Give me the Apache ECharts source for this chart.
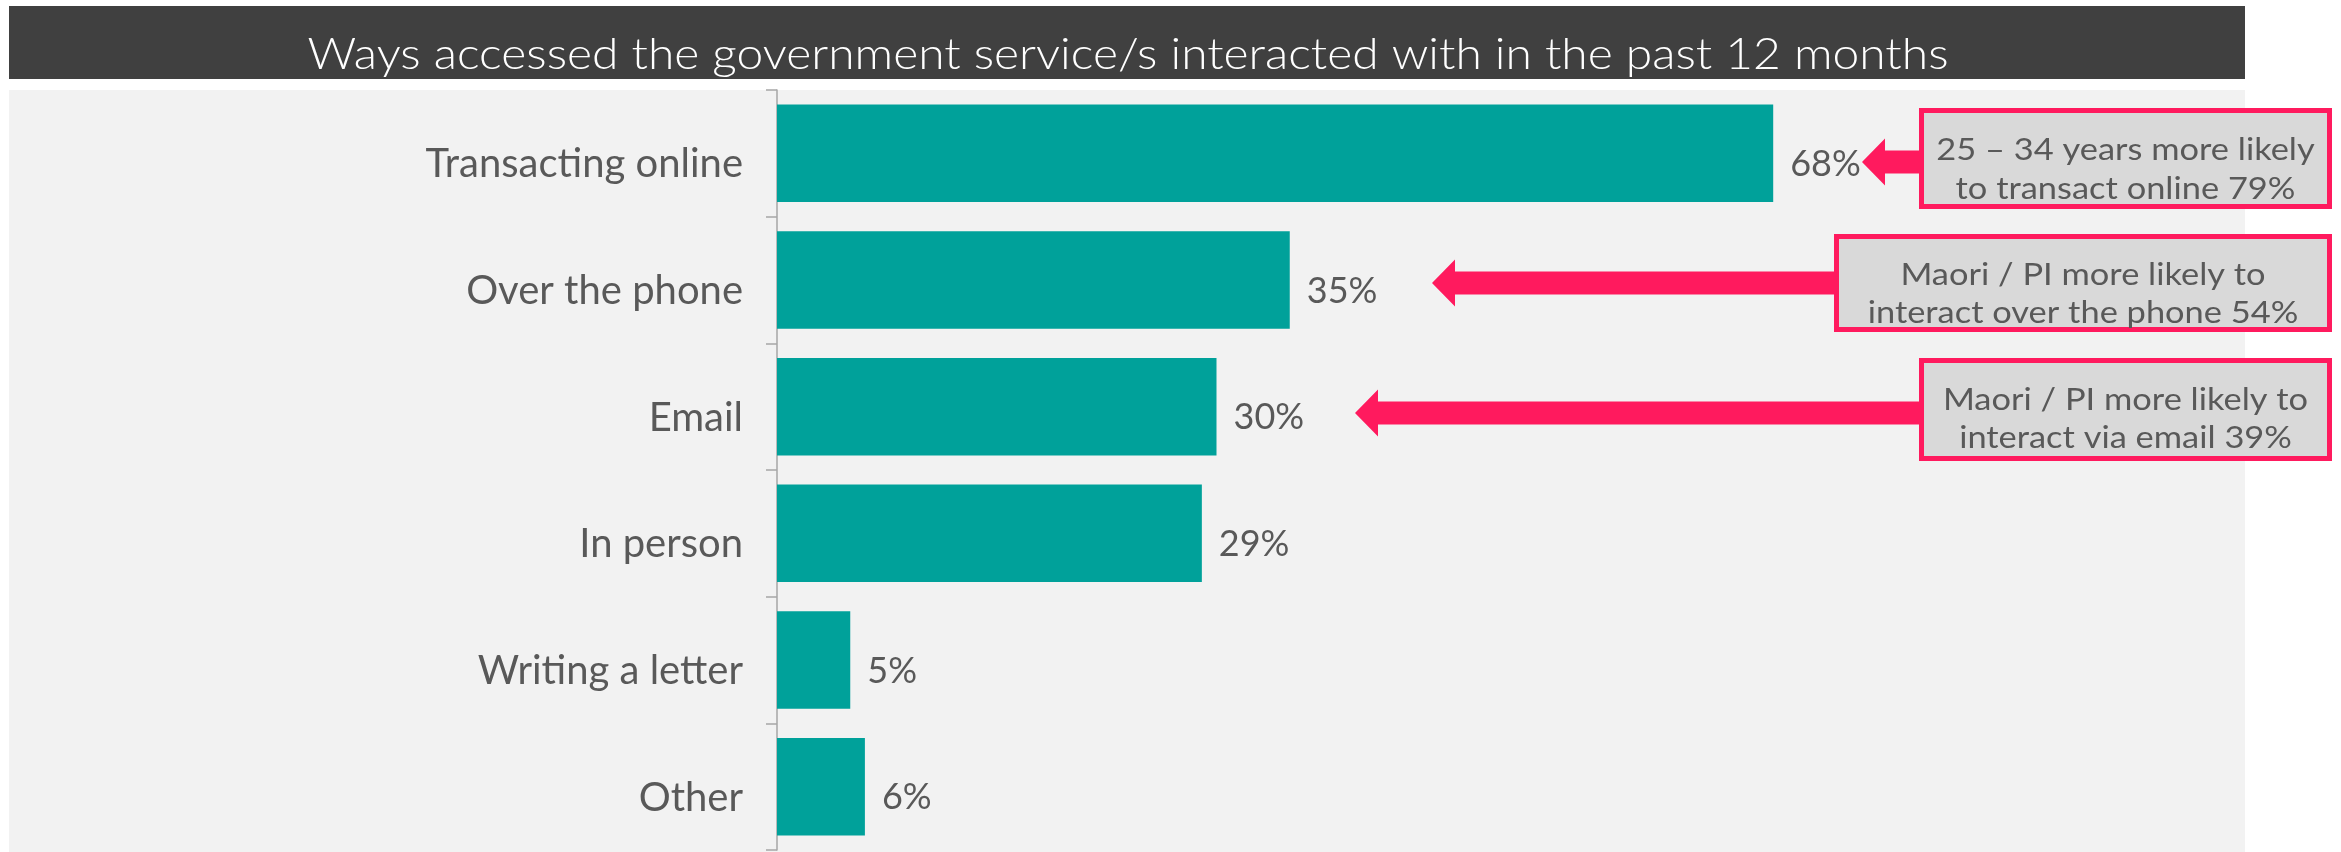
<!DOCTYPE html>
<html>
<head>
<meta charset="utf-8">
<script src="https://cdn.jsdelivr.net/npm/echarts@6/dist/echarts.min.js"></script>
<style>
  html, body { margin: 0; padding: 0; background: #ffffff; }
  #chart { width: 2341px; height: 852px; }
</style>
</head>
<body>
<div id="chart"></div>
<script>
// Ways of accessing government services, share of respondents (%)
const categories = ['Transacting online', 'Over the phone', 'Email', 'In person', 'Writing a letter', 'Other'];
const values = [68, 35, 30, 29, 5, 6];

const chartTitle = 'Ways accessed the government service/s interacted with in the past 12 months';

// Sub-group call-outs pointing at the first three bars
const calloutLines = [
  ['25 – 34 years more likely', 'to transact online 79%'],
  ['Maori / PI more likely to', 'interact over the phone 54%'],
  ['Maori / PI more likely to', 'interact via email 39%']
];

const FONT = 'Lato';
const TEXT_GREY = '#595959';
const PINK = '#ff1a5e';
const TEAL = '#00a19a';

const chart = echarts.init(document.getElementById('chart'), null, { renderer: 'canvas' });

// call-out geometry: arrow tip x, arrow centre y, box left/top/bottom, text line y's
const callouts = [
  { tip: 1862, cy: 162, left: 1919, top: 108, bottom: 209, ty: [150, 189] },
  { tip: 1432, cy: 283, left: 1834, top: 234, bottom: 332, ty: [275, 313] },
  { tip: 1355, cy: 413, left: 1919, top: 358, bottom: 461, ty: [400, 438] }
];
const boxRight = 2332;

function arrowPoints(c) {
  const h = 23, head = 23.5, shaft = 11.5;
  return [
    [c.tip, c.cy],
    [c.tip + h, c.cy - head],
    [c.tip + h, c.cy - shaft],
    [c.left + 2, c.cy - shaft],
    [c.left + 2, c.cy + shaft],
    [c.tip + h, c.cy + shaft],
    [c.tip + h, c.cy + head]
  ];
}

const graphics = [
  // plot panel background
  { type: 'rect', z: -10, silent: true, shape: { x: 9, y: 90, width: 2236, height: 762 }, style: { fill: '#f2f2f2' } },
  // title band
  { type: 'rect', z: 10, silent: true, shape: { x: 9, y: 6, width: 2236, height: 73 }, style: { fill: '#404040' } },
  {
    type: 'text', z: 11, silent: true, x: 1128, y: 55, scaleX: 1.09,
    style: { text: chartTitle, fill: '#ffffff', font: '300 44px ' + FONT, textAlign: 'center', textVerticalAlign: 'middle' }
  }
];

callouts.forEach((c, i) => {
  graphics.push({ type: 'polygon', z: 10, silent: true, shape: { points: arrowPoints(c) }, style: { fill: PINK } });
  graphics.push({
    type: 'rect', z: 11, silent: true,
    shape: { x: c.left + 2.5, y: c.top + 2.5, width: boxRight - c.left - 5, height: c.bottom - c.top - 5 },
    style: { fill: '#d9d9d9', stroke: PINK, lineWidth: 5 }
  });
  calloutLines[i].forEach((line, j) => {
    graphics.push({
      type: 'text', z: 12, silent: true, x: (c.left + boxRight) / 2, y: c.ty[j], scaleX: 1.11,
      style: { text: line, fill: TEXT_GREY, font: '31px ' + FONT, textAlign: 'center', textVerticalAlign: 'middle' }
    });
  });
});

const option = {
  backgroundColor: '#ffffff',
  animation: false,
  grid: { left: 777, right: 99, top: 90, bottom: 2, containLabel: false },
  xAxis: {
    type: 'value', min: 0, max: 100, show: false
  },
  yAxis: {
    type: 'category',
    data: categories,
    inverse: true,
    axisLine: { show: true, lineStyle: { color: '#a6a6a6', width: 1.5 } },
    axisTick: { show: true, length: 11, lineStyle: { color: '#a6a6a6', width: 1.5 } },
    axisLabel: {
      color: TEXT_GREY, fontFamily: FONT, fontSize: 40, margin: 34,
      verticalAlign: 'top', lineHeight: 22
    },
    splitLine: { show: false }
  },
  series: [{
    type: 'bar',
    data: values,
    barCategoryGap: '23%',
    itemStyle: { color: TEAL },
    label: {
      show: true, position: 'right', distance: 17, offset: [0, 11],
      formatter: p => p.value + '%',
      color: TEXT_GREY, fontFamily: FONT, fontSize: 36
    }
  }],
  graphic: graphics
};

chart.setOption(option);
</script>
</body>
</html>
